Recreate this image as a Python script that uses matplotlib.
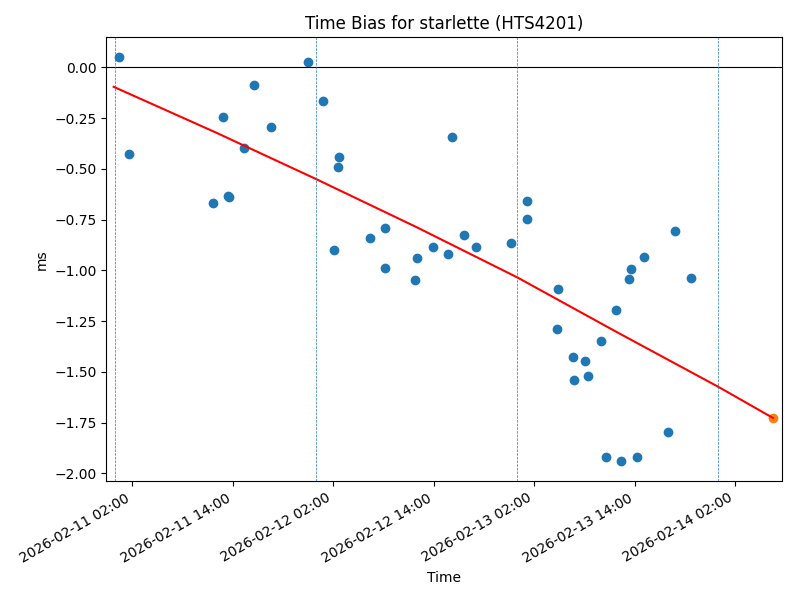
import matplotlib
matplotlib.use("Agg")
import matplotlib.pyplot as plt
import matplotlib.dates as mdates
import pandas as pd

# time bias samples (ms)
times = ["2026-02-11 00:26", "2026-02-11 01:37", "2026-02-11 11:39", "2026-02-11 12:51",
         "2026-02-11 13:29", "2026-02-11 13:35", "2026-02-11 15:21", "2026-02-11 16:31",
         "2026-02-11 18:35", "2026-02-11 23:00", "2026-02-12 00:47", "2026-02-12 02:06",
         "2026-02-12 02:33", "2026-02-12 02:40", "2026-02-12 06:24", "2026-02-12 08:11",
         "2026-02-12 08:11", "2026-02-12 11:46", "2026-02-12 12:01", "2026-02-12 13:55",
         "2026-02-12 15:43", "2026-02-12 16:09", "2026-02-12 17:37", "2026-02-12 19:03",
         "2026-02-12 23:14", "2026-02-13 01:09", "2026-02-13 01:09", "2026-02-13 04:44",
         "2026-02-13 04:51", "2026-02-13 06:38", "2026-02-13 06:46", "2026-02-13 08:04",
         "2026-02-13 08:26", "2026-02-13 09:59", "2026-02-13 10:35", "2026-02-13 11:46",
         "2026-02-13 12:22", "2026-02-13 13:20", "2026-02-13 13:34", "2026-02-13 14:17",
         "2026-02-13 15:07", "2026-02-13 17:59", "2026-02-13 18:49", "2026-02-13 20:41"]
bias = [0.049, -0.429, -0.669, -0.247,
        -0.633, -0.637, -0.398, -0.087,
        -0.295, 0.026, -0.168, -0.901,
        -0.489, -0.443, -0.839, -0.789,
        -0.987, -1.049, -0.937, -0.883,
        -0.918, -0.344, -0.827, -0.883,
        -0.867, -0.656, -0.745, -1.288,
        -1.090, -1.426, -1.539, -1.446,
        -1.519, -1.347, -1.918, -1.194,
        -1.939, -1.041, -0.992, -1.918,
        -0.932, -1.796, -0.804, -1.036]

# predicted point
pred_time = ["2026-02-14 06:31"]
pred_bias = [-1.727]

# fitted trend
fit_times = ["2026-02-10 23:48", "2026-02-11 12:00", "2026-02-12 00:00", "2026-02-12 12:00",
             "2026-02-13 00:00", "2026-02-13 12:00", "2026-02-14 00:00", "2026-02-14 06:31"]
fit_bias = [-0.096, -0.321, -0.551, -0.788, -1.035, -1.307, -1.574, -1.727]

# day boundaries
days = ["2026-02-11", "2026-02-12", "2026-02-13", "2026-02-14"]

t = pd.to_datetime(times)
fig, ax = plt.subplots(figsize=(8, 6), dpi=100)
ax.scatter(t, bias)
ax.scatter(pd.to_datetime(pred_time), pred_bias)
ax.plot(pd.to_datetime(fit_times), fit_bias, color="red")
ax.axhline(0, color="black", lw=0.8)
for d in pd.to_datetime(days):
    ax.axvline(d, color="C0", ls="--", lw=0.5)

ax.set_xlim(pd.Timestamp("2026-02-10 22:56"), pd.Timestamp("2026-02-14 07:38"))
ax.xaxis.set_major_locator(mdates.HourLocator(byhour=[2, 14]))
ax.xaxis.set_major_formatter(mdates.DateFormatter("%Y-%m-%d %H:%M"))
plt.setp(ax.get_xticklabels(), rotation=30, ha="right")

ax.set_title("Time Bias for starlette (HTS4201)")
ax.set_xlabel("Time")
ax.set_ylabel("ms")
fig.subplots_adjust(left=0.133, right=0.978, top=0.938, bottom=0.198)
fig.savefig("out.png")
